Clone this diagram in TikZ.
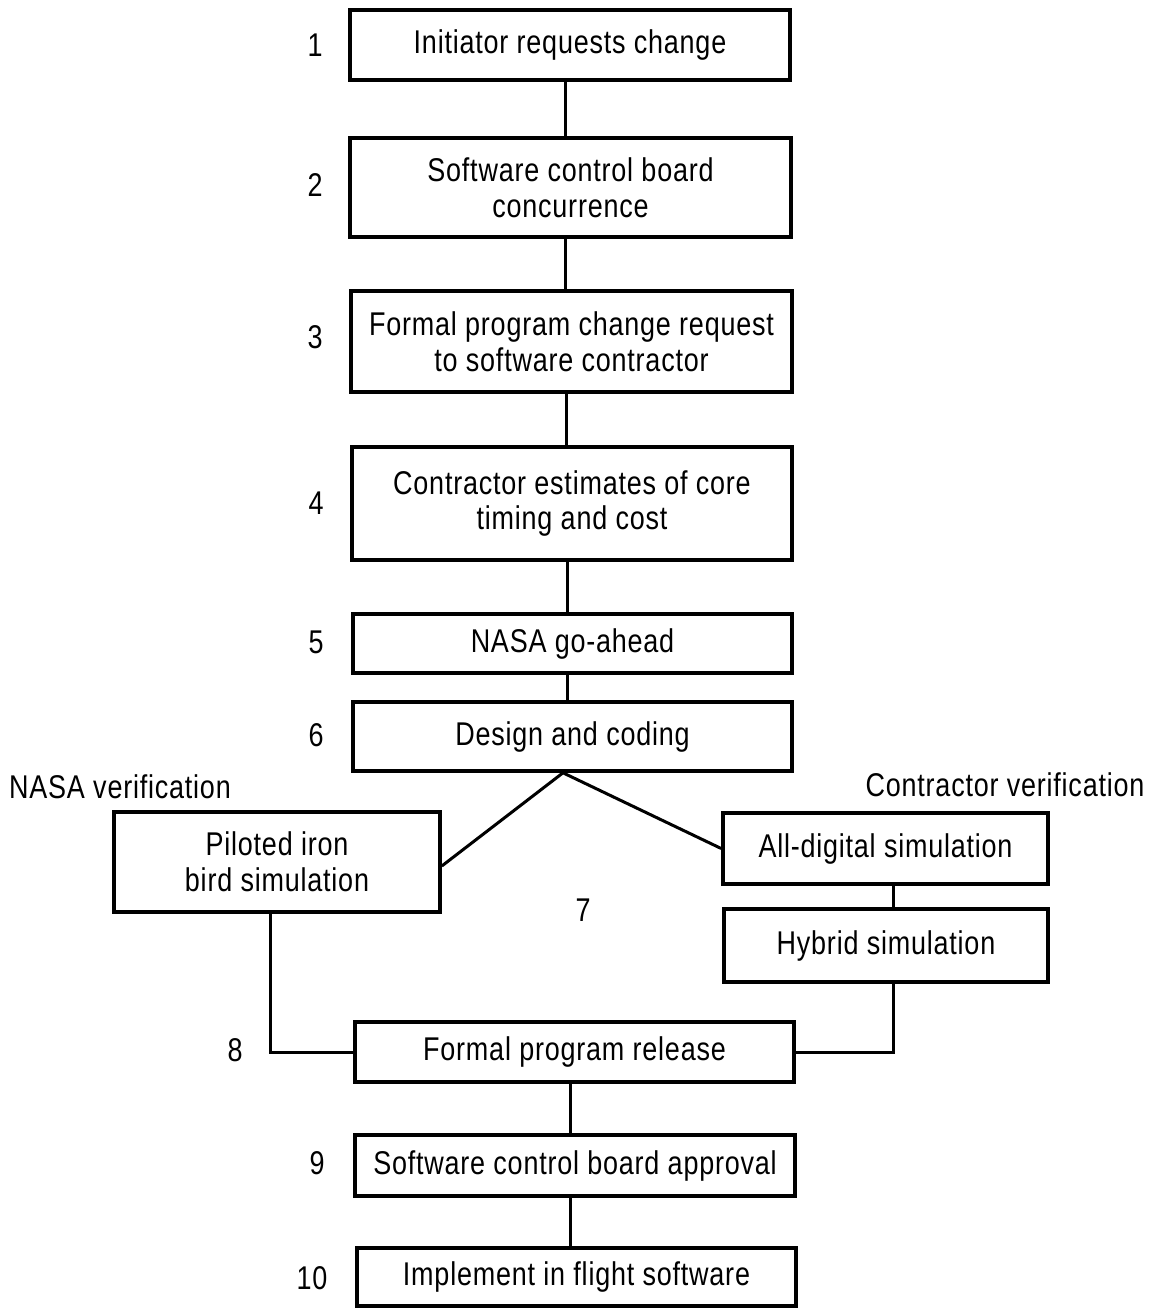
\documentclass[tikz,border=0pt]{standalone}
\usepackage{fontspec}
\setmainfont{Liberation Sans}[FakeStretch=0.82,LetterSpace=2.4]
\begin{document}
\begin{tikzpicture}[x=1bp,y=-1bp,
  box/.style={draw,line width=3.6bp,align=center,inner sep=0pt,font=\fontsize{33}{36}\selectfont},
  lbl/.style={font=\fontsize{33}{36}\selectfont,inner sep=0pt},
  conn/.style={line width=3bp}]
\useasboundingbox (0,0) rectangle (1155,1308);
% boxes
\node[box,minimum width=440bp,minimum height=70bp] (b1) at (570,45) {Initiator requests change};
\node[box,minimum width=441bp,minimum height=99bp] (b2) at (570.5,187.5) {Software control board\\concurrence};
\node[box,minimum width=441bp,minimum height=101bp] (b3) at (571.5,341.5) {Formal program change request\\to software contractor};
\node[box,minimum width=440bp,minimum height=113bp] (b4) at (572,503.5) {Contractor estimates of core\\timing and cost};
\node[box,minimum width=439bp,minimum height=59bp] (b5) at (572.5,643.5) {NASA go-ahead};
\node[box,minimum width=439bp,minimum height=69bp] (b6) at (572.5,736.5) {Design and coding};
\node[box,minimum width=326bp,minimum height=100bp] (pil) at (277,862) {Piloted iron\\bird simulation};
\node[box,minimum width=325bp,minimum height=71bp] (dig) at (885.5,848.5) {All-digital simulation};
\node[box,minimum width=324bp,minimum height=73bp] (hyb) at (886,945.5) {Hybrid simulation};
\node[box,minimum width=439bp,minimum height=60bp] (b8) at (574.5,1052) {Formal program release};
\node[box,minimum width=440bp,minimum height=61bp] (b9) at (575,1165.5) {Software control board approval};
\node[box,minimum width=439bp,minimum height=58bp] (b10) at (576.5,1277) {Implement in flight software};
% labels
\node[lbl] (n1) at (315,45) {1};
\node[lbl] (n2) at (315,185) {2};
\node[lbl] (n3) at (315,337) {3};
\node[lbl] (n4) at (316,503) {4};
\node[lbl] (n5) at (316,642) {5};
\node[lbl] (n6) at (316,735) {6};
\node[lbl] (n7) at (583,910) {7};
\node[lbl] (n8) at (235,1050) {8};
\node[lbl] (n9) at (317,1163) {9};
\node[lbl] (n10) at (312,1278) {10};
\node[lbl] (nasa) at (120,787) {NASA verification};
\node[lbl] (contr) at (1005,785) {Contractor verification};
% connector coordinates
\coordinate (x1) at (565,0);
\coordinate (x3) at (566,0);
\coordinate (x4) at (567,0);
\coordinate (xj) at (563,0);
\coordinate (xp) at (270,0);
\coordinate (xh) at (893,0);
\coordinate (x8) at (570,0);
\draw[conn] (b1.south -| x1) -- (b2.north -| x1);
\draw[conn] (b2.south -| x1) -- (b3.north -| x1);
\draw[conn] (b3.south -| x3) -- (b4.north -| x3);
\draw[conn] (b4.south -| x4) -- (b5.north -| x4);
\draw[conn] (b5.south -| x4) -- (b6.north -| x4);
\coordinate (j) at (b6.south -| xj);
\draw[conn] ([yshift=-4bp]pil.east) -- (j) -- (dig.west);
\draw[conn] (dig.south -| xh) -- (hyb.north -| xh);
\draw[conn] (hyb.south -| xh) -- (b8.east -| xh) -- (b8.east);
\draw[conn] (pil.south -| xp) -- (b8.west -| xp) -- (b8.west);
\draw[conn] (b8.south -| x8) -- (b9.north -| x8);
\draw[conn] (b9.south -| x8) -- (b10.north -| x8);
\end{tikzpicture}
\end{document}
